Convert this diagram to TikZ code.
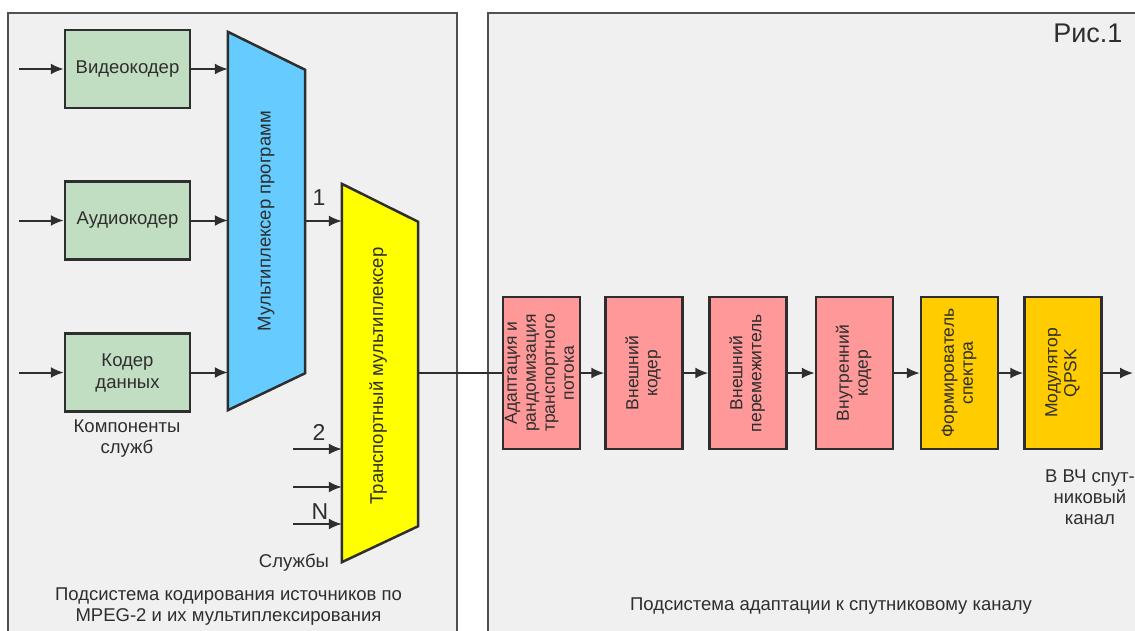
\documentclass[tikz,border=0pt]{standalone}
\usepackage{fontspec}
\setmainfont{Liberation Sans}
\usetikzlibrary{arrows.meta}
\definecolor{panelfill}{HTML}{F0F0F0}
\definecolor{panelline}{HTML}{505050}
\definecolor{inkgray}{HTML}{2E2E2E}
\definecolor{coderfill}{HTML}{C2DEC2}
\definecolor{progfill}{HTML}{66CCFF}
\definecolor{transfill}{HTML}{FFFF00}
\definecolor{stagefill}{HTML}{FF9999}
\definecolor{shapefill}{HTML}{FFCC00}
\newcommand{\vtext}[1]{\rotatebox{90}{\begin{tabular}{@{}c@{}}#1\end{tabular}}}
\tikzset{
  x=1pt, y=-1pt,
  panel/.style={draw=panelline, line width=1.5pt, fill=panelfill},
  coder/.style={draw=inkgray, line width=2.5pt, fill=coderfill, minimum width=125pt, minimum height=78pt, inner sep=0pt, align=center},
  stage/.style={draw=inkgray, line width=2.5pt, fill=stagefill, minimum width=77pt, minimum height=152pt, inner sep=0pt, font=\fontsize{17.5}{19}\selectfont},
  muxframe/.style={draw=inkgray, line width=2.5pt},
  flow/.style={line width=2pt, draw=inkgray, -{Latex[length=13pt,width=11pt]}},
  plain/.style={line width=2pt, draw=inkgray},
  caption/.style={align=center, text=inkgray},
  portnum/.style={font=\fontsize{23}{26}\selectfont},
}
\begin{document}
\begin{tikzpicture}[font=\fontsize{18.5}{21}\selectfont, text=inkgray]
			%%%%% START %%%%%
			\useasboundingbox (0,0) rectangle (1135,630);
			\fill[white] (0,0) rectangle (1135,630);
			
			% the two subsystems
			\draw[panel] (8,13) rectangle (457,650);
			\draw[panel] (488,13) rectangle (1150,650);
			
			% service components
			\node[coder] (video) at (127.5,69) {Видеокодер};
			\node[coder] (audio) at (127.5,220.5) {Аудиокодер};
			\node[coder] (data) at (127.5,372.5) {Кодер\\[1pt]данных};
			\node[caption] (components) at (127,439) {Компоненты\\служб};
			
			\coordinate (videoin) at (19,69);
			\coordinate (audioin) at (19,220.5);
			\coordinate (datain) at (19,372.5);
			\draw[flow] (videoin) -- (video);
			\draw[flow] (audioin) -- (audio);
			\draw[flow] (datain) -- (data);
			
			% program multiplexer
			\node[minimum width=77pt, minimum height=378pt] (progmux) at (266.5,221) {};
			\draw[muxframe, fill=progfill] (progmux.north west) -- ([yshift=-38pt]progmux.north east) -- ([yshift=37pt]progmux.south east) -- (progmux.south west) -- cycle;
			\node (proglabel) at (progmux) {\vtext{Мультиплексер программ}};
			
			\draw[flow] (video) -- (video -| progmux.west);
			\draw[flow] (audio) -- (audio -| progmux.west);
			\draw[flow] (data) -- (data -| progmux.west);
			
			% transport multiplexer
			\node[minimum width=76pt, minimum height=378pt] (transmux) at (380,373) {};
			\draw[muxframe, fill=transfill] (transmux.north west) -- ([yshift=-38pt]transmux.north east) -- ([yshift=36pt]transmux.south east) -- (transmux.south west) -- cycle;
			\node (translabel) at (379,376) {\vtext{Транспортный мультиплексер}};
			
			\draw[flow] (progmux.east) -- (progmux.east -| transmux.west);
			\node[portnum] (one) at (319,198) {1};
			
			\coordinate (svc2) at (293,449);
			\coordinate (svc3) at (293,487);
			\coordinate (svcN) at (293,524);
			\draw[flow] (svc2) -- (svc2 -| transmux.west);
			\draw[flow] (svc3) -- (svc3 -| transmux.west);
			\draw[flow] (svcN) -- (svcN -| transmux.west);
			\node[portnum] (two) at (319,432) {2};
			\node[portnum] (enn) at (320,512) {N};
			\node[caption] (services) at (294,563) {Службы};
			
			\node[caption] (leftcaption) at (228.5,607) {Подсистема кодирования источников по\\MPEG-2 и их мультиплексирования};
			
			% satellite channel adaptation
			\node[stage] (adapt) at (541.5,373) {\vtext{Адаптация и\\рандомизация\\транспортного\\потока}};
			\node[stage] (outer) at (644,373) {\vtext{Внешний\\кодер}};
			\node[stage] (interleave) at (748,373) {\vtext{Внешний\\перемежитель}};
			\node[stage] (inner) at (854.5,373) {\vtext{Внутренний\\кодер}};
			\node[stage, fill=shapefill] (shaper) at (959.5,373) {\vtext{Формирователь\\спектра}};
			\node[stage, fill=shapefill] (qpsk) at (1063,373) {\vtext{Модулятор\\QPSK}};
			
			\draw[plain] (transmux.east) -- (adapt);
			\draw[flow] (adapt) -- (outer);
			\draw[flow] (outer) -- (interleave);
			\draw[flow] (interleave) -- (inner);
			\draw[flow] (inner) -- (shaper);
			\draw[flow] (shaper) -- (qpsk);
			\coordinate (rfout) at (1133,373);
			\draw[flow] (qpsk) -- (rfout);
			
			\node[caption] (rfcaption) at (1090,497) {В ВЧ спут-\\никовый\\канал};
			\node[caption] (rightcaption) at (831,606) {Подсистема адаптации к спутниковому каналу};
			\node[anchor=east, font=\fontsize{27}{30}\selectfont] (fig) at (1126,33) {Рис.1};
			%%%%% END %%%%%
\end{tikzpicture}
\end{document}
